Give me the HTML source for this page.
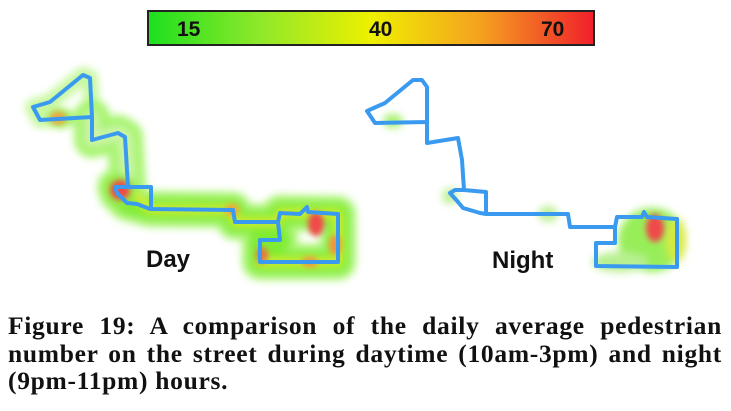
<!DOCTYPE html>
<html><head><style>
body{margin:0;width:731px;height:411px;background:#fff;overflow:hidden;position:relative;font-family:"Liberation Sans",sans-serif}
.cb{position:absolute;left:147px;top:10px;width:448px;height:36px;border:2px solid #222;box-sizing:border-box;background:linear-gradient(90deg,#1ee01e 0%,#8fe82a 25%,#eef000 50%,#f5a020 75%,#f0202a 100%)}
.cb span{position:absolute;top:6px;font:bold 21px "Liberation Sans",sans-serif;color:#111}
.cap{position:absolute;left:8px;top:312px;width:714px;font:bold 25.5px "Liberation Serif",serif;letter-spacing:0.7px;color:#111}
.cap div{height:27.5px;line-height:27.5px;text-align:justify;text-align-last:justify;white-space:nowrap}
.cap div.l{text-align-last:left}
</style></head><body>
<div class="cb"><span style="left:28px">15</span><span style="left:220px">40</span><span style="left:392px">70</span></div>
<svg width="731" height="300" style="position:absolute;left:0;top:0">
<defs>
<filter id="b" x="-20%" y="-20%" width="140%" height="140%"><feGaussianBlur stdDeviation="4"/></filter>
<filter id="b2" x="-50%" y="-50%" width="200%" height="200%"><feGaussianBlur stdDeviation="3"/></filter>
</defs>
<g filter="url(#b)" fill="none" stroke-linecap="round" stroke-linejoin="round">
<path d="M33,107 L50,102 L83,75 L90,78 L92,117 L40,120Z" stroke="#c8f8a0" stroke-width="16"/>
<path d="M92,117 L92,140 L118,133 L125,137 L128,187 L115,187 L117,193 L127,203 L150,209 L233,210 L235,222 L278,222 L280,213 L338,214 L338,262 L260,262 L260,240 L280,240" stroke="#a8f470" stroke-width="36"/>
<path d="M115,187 L117,193 L127,203 L150,209 L233,210 L235,222 L278,222 M280,213 L338,214 L338,262 L260,262 L260,240 L280,240" stroke="#80ec30" stroke-width="22"/>
<path d="M128,187 L150,209 L233,210 L235,222 L278,222 M280,213 L338,214 L338,262 L260,262" stroke="#d4ec30" stroke-width="8"/>
<path d="M92,117 L92,140 L118,133 L125,137 L128,180" stroke="#ccf4a8" stroke-width="14"/>
<ellipse cx="120" cy="190" rx="16" ry="16" fill="#90ec40" stroke="none"/>
<ellipse cx="60" cy="118" rx="12" ry="10" fill="#98ee50" stroke="none"/>
</g>
<g filter="url(#b2)">
<ellipse cx="58" cy="118" rx="8" ry="6" fill="#f5a040"/>
<ellipse cx="120" cy="190" rx="10" ry="10" fill="#f04a4a"/>
<ellipse cx="316" cy="224" rx="8" ry="12" fill="#f04a4a"/>
<ellipse cx="232" cy="210" rx="7" ry="6" fill="#f5a040"/>
<ellipse cx="262" cy="255" rx="6" ry="8" fill="#f07040"/>
<ellipse cx="335" cy="245" rx="6" ry="10" fill="#f59040"/>
<ellipse cx="310" cy="262" rx="8" ry="5" fill="#f59040"/>
</g>
<g filter="url(#b)">
<ellipse cx="393" cy="121" rx="10" ry="7" fill="#a8f070"/>
<ellipse cx="450" cy="196" rx="8" ry="8" fill="#c0f098"/>
<ellipse cx="548" cy="214" rx="10" ry="8" fill="#c0f098"/>
<ellipse cx="652" cy="240" rx="34" ry="32" fill="#98ee58"/>
<ellipse cx="620" cy="262" rx="28" ry="10" fill="#b8f090"/>
<ellipse cx="676" cy="240" rx="10" ry="22" fill="#d8ea40"/>
</g>
<g filter="url(#b2)"><ellipse cx="655" cy="228" rx="9" ry="14" fill="#f04a4a"/></g>
<path d="M33,107 L50,102 L83,75 L90,78 L92,117 L40,120 Z M92,117 L92,140 L118,133 L125,137 L128,187 L115,187 L117,193 L127,203 L137,204 L150,209 L233,210 L235,222 L278,222 L280,213 L300,214 L307,207 L308,212 L338,214 L338,262 L260,262 L260,240 L280,240 L278,222 M128,187 L151,187 L151,209" fill="none" stroke="#3a9af0" stroke-width="4" stroke-linejoin="round"/>
<path d="M367,111 L385,103 L413,80 L422,80 L427,87 L427,122 L375,123 Z M427,122 L427,143 L458,138 L462,160 L464,190 L455,190 L450,193 L458,202 L463,208 L480,213 L486,214 L568,214 L570,227 L615,227 L617,217 L642,217 L644,212 L647,217 L677,219 L677,267 L596,266 L596,243 L615,243 L615,227 M464,190 L486,192 L486,214" fill="none" stroke="#3a9af0" stroke-width="4" stroke-linejoin="round"/>
<text x="146" y="267" font-family="Liberation Sans" font-weight="bold" font-size="24" fill="#111">Day</text>
<text x="492" y="268" font-family="Liberation Sans" font-weight="bold" font-size="24" fill="#111">Night</text>
</svg>
<div class="cap"><div>Figure 19: A comparison of the daily average pedestrian</div><div>number on the street during daytime (10am-3pm) and night</div><div class="l">(9pm-11pm) hours.</div></div>
</body></html>
